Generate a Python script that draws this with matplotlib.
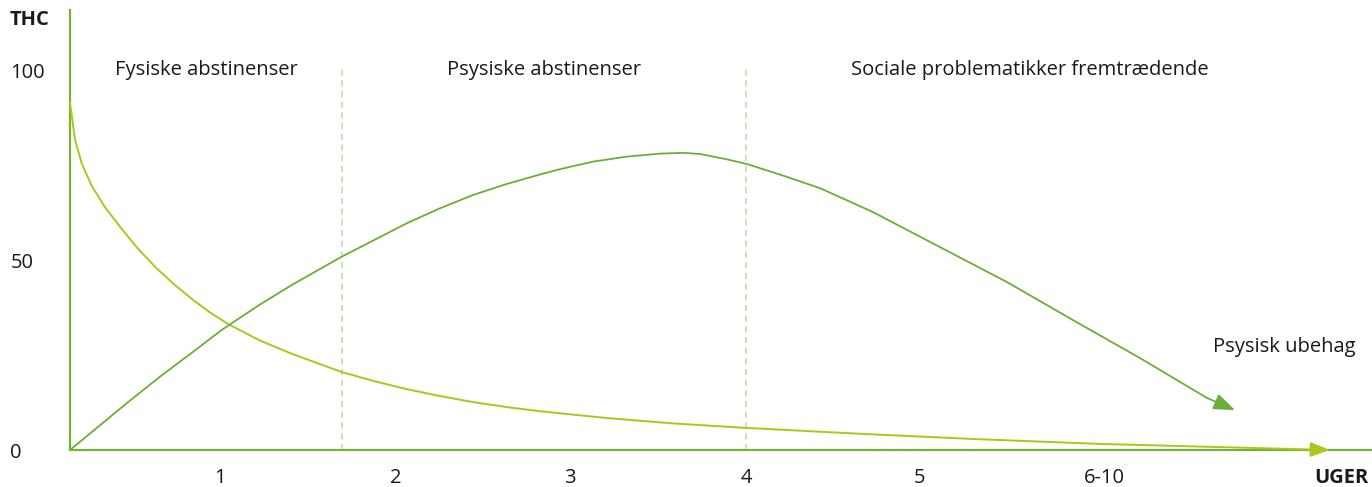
import matplotlib.pyplot as plt

# x in weeks-ish units (axis origin = 0), y = level 0-100
thc_x = [0.0, 0.029, 0.067, 0.124, 0.2, 0.295, 0.39, 0.495, 0.6, 0.703,
         0.806, 0.909, 1.086, 1.274, 1.554, 1.74, 1.926, 2.114, 2.303, 2.495,
         2.686, 3.069, 3.446, 3.829, 4.5, 5.160, 5.886]
thc_y = [91.4, 81.6, 75.4, 69.5, 63.9, 58.2, 52.9, 47.8, 43.4, 39.5,
         36.0, 33.0, 28.8, 25.2, 20.5, 18.1, 16.0, 14.2, 12.6, 11.3,
         10.2, 8.4, 7.0, 5.9, 4.3, 2.9, 1.6]
thc_tip = (7.2, 0.0)

ubehag_x = [0.0, 0.324, 0.514, 0.705, 0.867, 1.086, 1.274, 1.554, 1.926, 2.114,
            2.303, 2.495, 2.686, 2.8, 2.99, 3.181, 3.371, 3.505, 3.6, 3.753,
            3.873, 4.095, 4.286, 4.589, 4.971, 5.354, 5.731, 6.114, 6.497]
ubehag_y = [0.0, 12.3, 19.3, 25.9, 31.6, 38.3, 43.6, 50.9, 59.7, 63.6,
            67.1, 70.0, 72.5, 73.9, 75.9, 77.2, 78.0, 78.2, 77.9, 76.5,
            75.2, 71.9, 68.9, 62.6, 53.4, 44.2, 34.2, 24.2, 13.7]
ubehag_tip = (6.657, 10.5)

week_pos = [0.857, 1.863, 2.857, 3.863, 4.857, 5.909]
week_labels = ["1", "2", "3", "4", "5", "6-10"]
y_ticks = [0, 50, 100]

phase_edges = [0, 1.554, 3.863, 7.11]
phase_labels = ["Fysiske abstinenser", "Psysiske abstinenser",
                "Sociale problematikker fremtrædende"]

AXIS = "#72b52c"
DARK = "#6cae37"
LIGHT = "#aac81c"
DASH = "#bcd9a0"
TXT = "#1a1a1a"
FS = 14.5

plt.rcParams['font.family'] = ['Open Sans', 'DejaVu Sans']

W, H = 1372, 487
fig = plt.figure(figsize=(W / 100, H / 100), dpi=100)
ax = fig.add_axes([70 / W, 37 / H, (W - 70) / W, 440 / H])
ax.set_xlim(0, (W - 70) / 175)
ax.set_ylim(0, 440 / 3.8)

for s in ["top", "right"]:
    ax.spines[s].set_visible(False)
for s in ["left", "bottom"]:
    ax.spines[s].set_color(AXIS)
    ax.spines[s].set_linewidth(1.5)

ax.set_yticks(y_ticks)
ax.set_yticklabels([str(v) for v in y_ticks], ha="left")
ax.tick_params(axis="y", length=0, pad=43, labelsize=FS, colors=TXT)
ax.set_xticks(week_pos)
ax.set_xticklabels(week_labels)
ax.tick_params(axis="x", length=0, pad=13, labelsize=FS, colors=TXT)

# phase separators
for xe in phase_edges[1:-1]:
    ax.plot([xe, xe], [0, 101.3], color=DASH, lw=1.1, ls=(0, (4, 3)), zorder=1)
for i, lab in enumerate(phase_labels):
    ax.text((phase_edges[i] + phase_edges[i + 1]) / 2, 100, lab,
            ha="center", va="center", fontsize=FS, color=TXT)

# curves
ax.plot(thc_x, thc_y, color=LIGHT, lw=1.4, zorder=3, clip_on=False,
        solid_joinstyle="round")
ax.annotate("", xy=thc_tip, xytext=(thc_x[-1], thc_y[-1]),
            arrowprops=dict(arrowstyle="-|>,head_length=1.2,head_width=0.45",
                            color=LIGHT, lw=1.4, shrinkA=0, shrinkB=0))
ax.plot(ubehag_x, ubehag_y, color=DARK, lw=1.3, zorder=3,
        solid_joinstyle="round")
ax.annotate("", xy=ubehag_tip, xytext=(ubehag_x[-1], ubehag_y[-1]),
            arrowprops=dict(arrowstyle="-|>,head_length=1.3,head_width=0.5",
                            color=DARK, lw=1.3, shrinkA=0, shrinkB=0))

ax.text(6.531, 27, "Psysisk ubehag", ha="left", va="center",
        fontsize=FS, color=TXT)

fig.text(10 / W, 1 - 20 / H, "THC", ha="left", va="center",
         fontsize=FS, fontweight="bold", color=TXT)
fig.text(1368 / W, 1 - 478 / H, "UGER", ha="right", va="center",
         fontsize=FS, fontweight="bold", color=TXT)

fig.savefig("out.png", dpi=100, facecolor="white")
